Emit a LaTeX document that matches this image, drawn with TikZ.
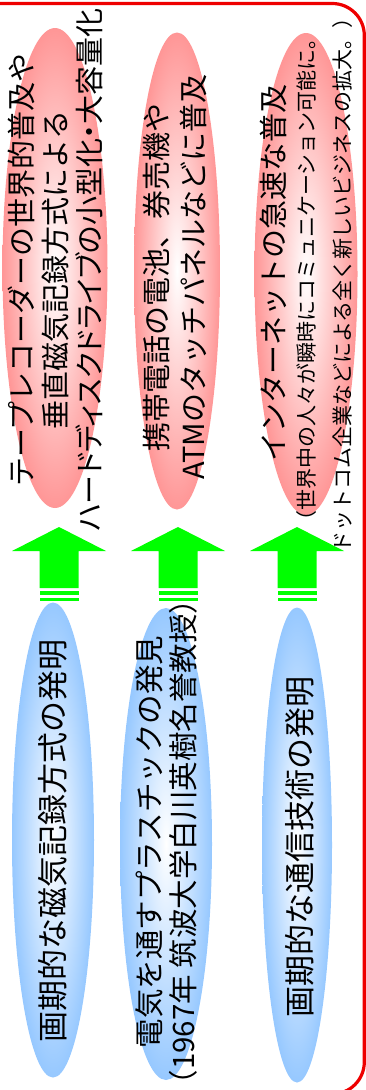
\documentclass[tikz,border=0pt]{standalone}
\usepackage{fontspec}
\newfontfamily\jp{Noto Sans CJK JP}
\newfontfamily\jpp[RawFeature=+palt]{Noto Sans CJK JP}
\usetikzlibrary{shapes.geometric}
\definecolor{pinkedge}{RGB}{255,150,150}
\definecolor{blueedge}{RGB}{150,200,255}
\definecolor{arrowgreen}{RGB}{0,255,0}
\definecolor{framered}{RGB}{238,0,0}
\begin{document}
\begin{tikzpicture}[x=1pt,y=-1pt,
  pinkell/.style={ellipse, draw=none, inner sep=0pt, shading=radial, inner color=white, outer color=pinkedge, rotate=90},
  blueell/.style={ellipse, draw=none, inner sep=0pt, shading=radial, inner color=white, outer color=blueedge, rotate=90},
  bigtxt/.style={rotate=90, align=center, inner sep=0pt, font=\jp\fontsize{29}{34}\selectfont},
  bluetxt/.style={rotate=90, align=center, inner sep=0pt, font=\jp\fontsize{31}{34}\selectfont},
  smalltxt/.style={rotate=90, align=center, inner sep=0pt, font=\jp\fontsize{21}{36}\selectfont},
  uparrow/.pic={
    \fill[arrowgreen] (-47,0) -- (0,-24) -- (47,0) -- (19.5,0) -- (19.5,37) -- (-19.5,37) -- (-19.5,0) -- cycle;
    \fill[arrowgreen] (-19.5,40) rectangle (19.5,44);
    \fill[arrowgreen] (-19.5,47) rectangle (19.5,50);
  }]
\useasboundingbox (0,0) rectangle (366,1090);
\begin{scope}
  \clip (0,0) rectangle (366,1090);
  \draw[framered, line width=3.2pt, rounded corners=32pt] (-10,3.5) -- (364.3,3.5) -- (364.3,1094) -- (300,1094);
\end{scope}
% pink ellipses
\node[pinkell, minimum width=480pt, minimum height=105pt] (p1) at (55,268) {};
\node[pinkell, minimum width=477pt, minimum height=86pt] (p2) at (177,271) {};
\node[pinkell, minimum width=482pt, minimum height=103pt] (p3) at (306,274) {};
% blue ellipses
\node[blueell, minimum width=475pt, minimum height=82pt] (b1) at (53,840) {};
\node[blueell, minimum width=472pt, minimum height=92pt] (b2) at (166,844) {};
\node[blueell, minimum width=475pt, minimum height=70pt] (b3) at (297,845) {};
% arrows
\pic (g1) at (59,551) {uparrow};
\pic (g2) at (178,551) {uparrow};
\pic (g3) at (297,551) {uparrow};
% texts
\node[bigtxt] (p1t) at (55.5,270) {テープレコーダーの世界的普及や\\垂直磁気記録方式による\\{\jpp ハードディスクドライブの小型化・大容量化}};
\node[bigtxt, font=\jp\fontsize{29}{37}\selectfont] (p2t) at (174.5,277) {携帯電話の電池、券売機や\\ATMのタッチパネルなどに普及};
\node[bigtxt] (p3t) at (273,273) {インターネットの急速な普及};
\node[smalltxt] (p3s) at (325,280) {（世界中の人々が瞬時にコミュニケーション可能に。\\ドットコム企業などによる全く新しいビジネスの拡大。）};
\node[bluetxt] (b1t) at (53,841) {画期的な磁気記録方式の発明};
\node[bluetxt, font=\jp\fontsize{29.5}{34}\selectfont] (b2t) at (166,842) {電気を通すプラスチックの発見\\（1967年 筑波大学白川英樹名誉教授）};
\node[bluetxt] (b3t) at (300,847) {画期的な通信技術の発明};
\end{tikzpicture}
\end{document}
